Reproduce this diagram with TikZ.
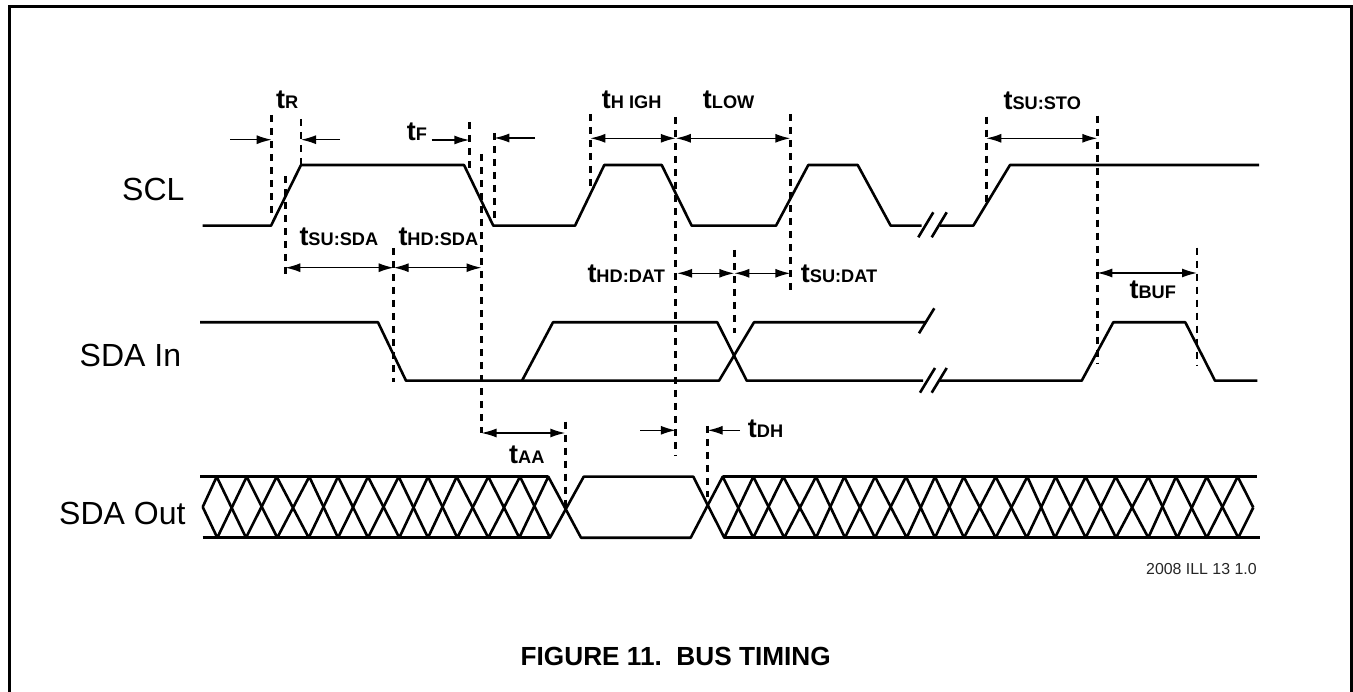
\documentclass[tikz,border=0pt]{standalone}
\usepackage{fontspec}
\setmainfont{Liberation Sans}
\usetikzlibrary{arrows.meta}
\newcommand{\bigfont}{\fontsize{32}{36}\selectfont}
\newcommand{\timelabel}[4]{\node[tlabel] (#1) at (#2,#3) {{\fontsize{27}{30}\selectfont t}{\fontsize{18.2}{20}\selectfont #4}};}
\tikzset{
  frameline/.style={line width=3pt,black},
  signal/.style={line width=2.6pt,black,line join=round},
  guide/.style={line width=2.8pt,black,dash pattern=on 7pt off 6pt},
  dimone/.style={line width=1.4pt,black,-{Latex[length=15pt,width=9pt]}},
  dimtwo/.style={line width=1.4pt,black,{Latex[length=15pt,width=9pt]}-{Latex[length=15pt,width=9pt]}},
  tlabel/.style={anchor=base west,inner sep=0pt,font=\bfseries},
  siglabel/.style={anchor=base west,inner sep=0pt,font=\bigfont},
}
\begin{document}
\begin{tikzpicture}[x=1pt,y=-1pt]
\useasboundingbox (0,0) rectangle (1353,692);
\draw[frameline] (9.5,692) -- (9.5,7) -- (1351.5,7) -- (1351.5,692);

% SCL
\draw[signal] (202.7,225.7) -- (271,225.7) -- (301,165) -- (464,165) -- (493.3,225.7) -- (575,225.7) -- (604.3,165) -- (661.7,165) -- (691.7,225.7) -- (776,225.7) -- (808.3,165) -- (857.7,165) -- (890.7,225.7) -- (921.7,225.7);
\draw[signal] (940,225.7) -- (973.3,225.7) -- (1010,165) -- (1259,165);
\draw[signal] (918.3,237.3) -- (933.3,212.3);
\draw[signal] (931.7,237.3) -- (946.7,212.3);

% SDA In
\draw[signal] (200,322.3) -- (378,322.3) -- (406,380.7) -- (719,380.7) -- (754,322.3) -- (926,322.3);
\draw[signal] (522,380.7) -- (553,322.3) -- (717.3,322.3) -- (746.7,380.7) -- (923,380.7);
\draw[signal] (940,380.7) -- (1081.7,380.7) -- (1113.3,322.3) -- (1185.3,322.3) -- (1215,380.7) -- (1257.3,380.7);
\draw[signal] (919,333.3) -- (934.3,308.3);
\draw[signal] (920,392.7) -- (935,368);
\draw[signal] (931.7,392.7) -- (946.7,368);

% SDA Out
\draw[signal] (200,476.7) -- (548.3,476.7);
\draw[signal] (202.7,537.7) -- (550,537.7);
\draw[signal] (722.7,476.7) -- (1257.3,476.7);
\draw[signal] (724.3,537.7) -- (1260,537.7);
\draw[signal] (202.7,507) -- (216.7,476.7) -- (246,537.7) -- (276.7,476.7) -- (308.7,537.7) -- (338,476.7) -- (368,537.7) -- (398.7,476.7) -- (428,537.7) -- (456.7,476.7) -- (488.3,537.7) -- (520,476.7) -- (550,537.7) -- (583.7,476.7) -- (693.3,476.7) -- (724.3,537.7) -- (753.3,476.7) -- (784.3,537.7) -- (816,476.7) -- (845,537.7) -- (875,476.7) -- (906.7,537.7) -- (935,476.7) -- (964,537.7) -- (995.7,476.7) -- (1026.7,537.7) -- (1055.7,476.7) -- (1085.7,537.7) -- (1115.7,476.7) -- (1148.3,537.7) -- (1176,476.7) -- (1206.7,537.7) -- (1237.7,476.7) -- (1253.3,507.5);
\draw[signal] (202.7,507) -- (217.3,537.7) -- (246.7,476.7) -- (277.3,537.7) -- (309.3,476.7) -- (338,537.7) -- (368,476.7) -- (399.3,537.7) -- (428,476.7) -- (457.3,537.7) -- (488.3,476.7) -- (519.3,537.7) -- (548.3,476.7) -- (581,537.7) -- (690.7,537.7) -- (722.7,476.7) -- (753.3,537.7) -- (783.3,476.7) -- (816,537.7) -- (844.3,476.7) -- (875,537.7) -- (906,476.7) -- (935,537.7) -- (963.7,476.7) -- (995.7,537.7) -- (1027.3,476.7) -- (1055,537.7) -- (1085.7,476.7) -- (1116,537.7) -- (1148.3,476.7) -- (1177.3,537.7) -- (1206.7,476.7) -- (1238.3,537.7) -- (1253.3,507.5);

% dashed guides
\draw[guide] (271.7,115) -- (271.7,213);
\draw[guide] (301,119) -- (301,165);
\draw[guide] (285.3,176) -- (285.3,279);
\draw[guide] (469.3,122) -- (469.3,172);
\draw[guide] (481.5,154) -- (481.5,433);
\draw[guide] (494.3,133) -- (494.3,220);
\draw[guide] (393.7,248) -- (393.7,382);
\draw[guide] (590.3,114) -- (590.3,187);
\draw[guide] (675.8,117) -- (675.8,456);
\draw[guide] (790.3,114) -- (790.3,293);
\draw[guide] (734.3,250) -- (734.3,333);
\draw[guide] (986.3,116.7) -- (986.3,201.7);
\draw[guide] (1097.3,115.7) -- (1097.3,363);
\draw[guide] (1197,247.7) -- (1197,365);
\draw[guide] (565.3,421.7) -- (565.3,507);
\draw[guide] (707.7,426) -- (707.7,497);

% dimension arrows
\draw[dimone] (230,139.7) -- (271.7,139.7);
\draw[dimone] (340,139.7) -- (301,139.7);
\draw[dimone] (431.7,140) -- (469.3,140);
\draw[dimone] (535,138) -- (494.3,138);
\draw[dimtwo] (285.3,267.7) -- (393.7,267.7);
\draw[dimtwo] (393.7,267.7) -- (481.5,267.7);
\draw[dimtwo] (590.3,138.3) -- (675.8,138.3);
\draw[dimtwo] (675.8,138.3) -- (790.3,138.3);
\draw[dimtwo] (677,273.3) -- (734.3,273.3);
\draw[dimtwo] (734.3,273.3) -- (790.3,273.3);
\draw[dimtwo] (986.3,138.3) -- (1097.3,138.3);
\draw[dimtwo] (1097.3,273) -- (1197,273);
\draw[dimtwo] (481.5,433) -- (565.3,433);
\draw[dimone] (640,430.3) -- (675.8,430.3);
\draw[dimone] (740,430.3) -- (707.7,430.3);

% timing labels
\timelabel{tr}{276}{108.3}{R}
\timelabel{tf}{406.7}{140.7}{F}
\timelabel{tsusda}{299.3}{245.7}{SU:SDA}
\timelabel{thdsda}{398.3}{245.7}{HD:SDA}
\timelabel{thigh}{601.7}{109}{H IGH}
\timelabel{tlow}{702.7}{109}{LOW}
\timelabel{thddat}{587.3}{282.7}{HD:DAT}
\timelabel{tsudat}{800.7}{282.7}{SU:DAT}
\timelabel{tsusto}{1003.3}{110}{SU:STO}
\timelabel{tbuf}{1129.3}{299}{BUF}
\timelabel{taa}{509}{464}{AA}
\timelabel{tdh}{747.7}{437.7}{DH}

% signal names
\node[siglabel] (scl) at (122,201) {SCL};
\node[siglabel] (sdain) at (79.5,366.7) {SDA In};
\node[siglabel] (sdaout) at (59,524.3) {SDA Out};

\node[anchor=base west,inner sep=0pt,font=\fontsize{15.9}{18}\selectfont,text=black!85] (ill) at (1146,574) {2008 ILL 13 1.0};
\node[anchor=base west,inner sep=0pt,font=\bfseries\fontsize{26.2}{30}\selectfont] (title) at (520.5,665) {FIGURE 11.\ \ BUS TIMING};
\end{tikzpicture}
\end{document}
